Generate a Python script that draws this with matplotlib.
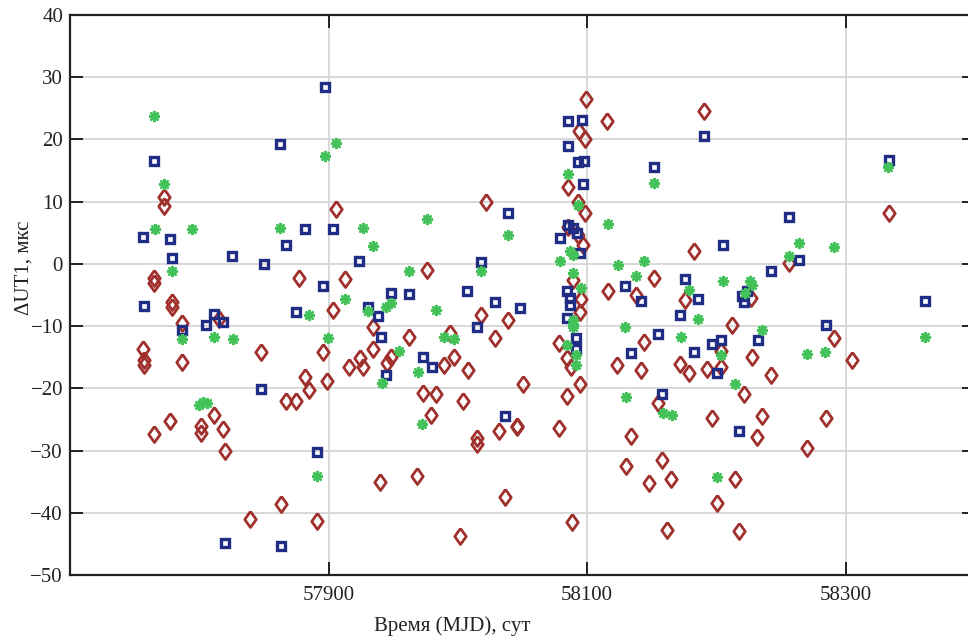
import numpy as np
import matplotlib
matplotlib.use("Agg")
import matplotlib.pyplot as plt

# Daten: MJD, dUT1 in mks
blue_mjd = [57756.6, 57777.5, 57779, 57765, 57862.6, 57825.6, 57850, 57867, 57757, 57787,
            57805.4, 57811.6, 57818.4, 57875, 57848, 57891, 57820, 57863, 58036.4, 57897,
            58038.5, 57881.4, 57903.4, 57923.5, 58017.6, 57895.6, 57948, 57962, 58007, 58028.5,
            58048, 57930.5, 57938, 58015, 57940.5, 57973, 57980, 57944.7, 58085, 58096,
            58190, 58085, 58093, 58097.7, 58151.4, 58097, 58085.5, 58089, 58092, 58079,
            58094.6, 58205, 58084.7, 58087, 58087, 58084.7, 58091, 58091, 58129, 58141.4,
            58176, 58186, 58220, 58172, 58154.6, 58196.6, 58203.6, 58134, 58182.7, 58200.5,
            58158, 58217.6, 58333.6, 58256, 58264, 58242, 58224, 58221.7, 58361.5, 58284.5,
            58232]
blue_val = [4.3, 4.0, 1.0, 16.6, 19.3, 1.2, 0.0, 3.0, -6.8, -10.6,
            -9.8, -8.1, -9.4, -7.7, -20.1, -30.3, -44.9, -45.4, -24.5, 28.4,
            8.2, 5.6, 5.6, 0.5, 0.3, -3.5, -4.6, -4.9, -4.4, -6.2,
            -7.1, -7.0, -8.4, -10.1, -11.8, -15.0, -16.6, -17.8, 23.0, 23.2,
            20.5, 18.9, 16.4, 16.6, 15.5, 12.9, 6.3, 5.7, 5.0, 4.2,
            1.8, 3.0, -4.4, -5.5, -6.6, -8.7, -11.9, -13.6, -3.5, -5.9,
            -2.4, -5.6, -5.1, -8.2, -11.3, -12.9, -12.2, -14.3, -14.1, -17.5,
            -20.9, -26.8, 16.7, 7.5, 0.6, -1.2, -4.3, -6.1, -5.9, -9.9,
            -12.2]

red_mjd = [57773, 57773, 57765, 57765, 57877.5, 57779, 57779, 57787, 57815, 57756.6,
           57757, 57757, 57787, 57848, 57867, 57875, 57765, 57777.5, 57801, 57801,
           57811.6, 57818, 57820, 57863, 57839.5, 57891, 57940, 57968.7, 58001.5, 58036.4,
           57979.6, 58015, 58015, 58032, 58045.5, 58004, 57906, 58021.7, 57976, 57913,
           57903.4, 58017.6, 58038.7, 57934, 57962, 57993.8, 58028.5, 57895.6, 57934, 57924,
           57948.6, 57945, 57926.6, 57916, 57989.4, 57997, 58008, 57881.4, 57885, 57899,
           57973, 57983, 58050, 58099, 58190, 58115, 58094, 58098.4, 58085, 58093,
           58098.4, 58085.5, 58093, 58097, 58183, 58089, 58095, 58094.6, 58116, 58151.4,
           58137.5, 58176, 58212, 58143.8, 58078.5, 58084.7, 58087.6, 58123, 58141.4, 58172,
           58179, 58193, 58203.6, 58203.6, 58094.6, 58084.7, 58154.6, 58046, 58078.5, 58196.6,
           58235, 58284.5, 58231.5, 58134, 58270, 58157.8, 58130, 58148, 58165, 58214,
           58200.5, 58088.6, 58162, 58217.6, 58333.6, 58256, 58226.4, 58291, 58227.6, 58305,
           58242, 58221.7]
red_val = [10.8, 9.3, -2.3, -3.1, -2.3, -6.2, -7.0, -9.5, -8.9, -13.7,
           -15.4, -16.2, -15.7, -14.1, -22.0, -22.0, -27.3, -25.2, -26.0, -27.2,
           -24.3, -26.5, -30.0, -38.6, -41.0, -41.4, -35.1, -34.1, -43.8, -37.4,
           -24.3, -28.0, -29.0, -26.8, -26.2, -22.1, 8.8, 10.0, -1.0, -2.5,
           -7.4, -8.2, -9.0, -10.1, -11.8, -11.1, -11.9, -14.1, -13.6, -15.2,
           -14.9, -16.0, -16.5, -16.6, -16.2, -15.0, -17.1, -18.2, -20.3, -18.8,
           -20.7, -20.9, -19.3, 26.5, 24.6, 23.0, 21.4, 20.1, 12.3, 9.9,
           8.2, 6.0, 4.6, 3.0, 2.1, -2.6, -5.6, -7.8, -4.4, -2.3,
           -5.0, -5.8, -9.9, -12.5, -12.7, -15.2, -16.5, -16.3, -17.1, -16.1,
           -17.5, -16.9, -16.5, -14.0, -19.3, -21.3, -22.4, -26.0, -26.4, -24.8,
           -24.4, -24.8, -27.8, -27.7, -29.6, -31.5, -32.5, -35.2, -34.6, -34.6,
           -38.4, -41.5, -42.8, -43.0, 8.2, 0.1, -5.5, -11.9, -14.9, -15.4,
           -17.8, -20.9]

green_mjd = [57765, 57773, 57766, 57794, 57862.6, 57779, 57787, 57811.6, 57826, 57800,
             57803, 57806, 57891, 57972.6, 57906, 57897, 57976, 57927, 58039, 57934,
             57962, 58017.6, 57913, 57885, 57930.5, 57944.7, 57948, 57983, 57899.5, 57989,
             57997, 57954.5, 57969, 57941, 58151.4, 58085, 58093, 58116, 58087, 58089,
             58079, 58123.5, 58144, 58089, 58095, 58137.5, 58179, 58205, 58186, 58129.5,
             58172.4, 58203.6, 58084.7, 58089, 58089, 58089, 58091, 58091.5, 58214, 58130,
             58159, 58165.6, 58200.5, 58333, 58264, 58291, 58256, 58226, 58227.6, 58222,
             58235, 58361, 58269.8, 58284]
green_val = [23.8, 12.9, 5.6, 5.6, 5.8, -1.1, -12.0, -11.7, -12.0, -22.6,
             -22.2, -22.4, -34.1, -25.8, 19.4, 17.4, 7.2, 5.8, 4.7, 2.8,
             -1.1, -1.1, -5.6, -8.2, -7.6, -7.0, -6.3, -7.4, -11.9, -11.8,
             -12.0, -14.0, -17.4, -19.2, 13.0, 14.5, 9.5, 6.4, 2.0, 1.5,
             0.4, -0.2, 0.4, -1.4, -3.9, -2.0, -4.2, -2.7, -8.9, -10.1,
             -11.8, -14.6, -13.0, -9.0, -9.6, -10.2, -14.6, -16.2, -19.3, -21.4,
             -24.0, -24.3, -34.2, 15.5, 3.3, 2.7, 1.3, -2.7, -3.4, -4.7,
             -10.7, -11.8, -14.5, -14.2]

plt.rcParams["font.family"] = ["Liberation Serif", "DejaVu Serif"]

# Raute etwas breiter als "d"
raute = [(0, 1), (0.72, 0), (0, -1), (-0.72, 0), (0, 1)]

fig = plt.figure(figsize=(9.68, 6.36), dpi=100)
ax = fig.add_axes([70 / 968, 1 - 575 / 636, 905 / 968, 560 / 636])

ax.plot(red_mjd, red_val, linestyle="none", marker=raute, ms=11.5, mfc="none",
        mec="#a0302c", mew=2.0)
ax.plot(blue_mjd, blue_val, linestyle="none", marker="s", ms=5.3, mfc="none",
        mec="#1f2d85", mew=2.4)
ax.plot(green_mjd, green_val, linestyle="none", marker=(8, 2, 0), ms=8,
        mec="#42c258", mew=1.7)

ax.set_xlim(57700, 58400)
ax.set_ylim(-50, 40)
ax.set_xticks([57900, 58100, 58300])
ax.set_yticks(np.arange(-50, 41, 10))
ax.grid(True, color="#d6d6d6", linewidth=1.3)
ax.set_axisbelow(True)

ax.tick_params(direction="in", length=9.5, width=1.4, labelsize=15, colors="#222222",
               top=True, right=True)
ax.tick_params(axis="x", pad=8)
ax.tick_params(axis="y", pad=5)
for s in ax.spines.values():
    s.set_linewidth(1.6)
    s.set_color("#222222")

ax.set_xlabel("Время (MJD), сут", fontsize=15, color="#222222")
ax.xaxis.set_label_coords((452 - 70) / 905, -41 / 560)
ax.set_ylabel("ΔUT1, мкс", fontsize=15, color="#222222")
ax.yaxis.set_label_coords(-36 / 905, 0.548)

fig.savefig("out.png", dpi=100)
